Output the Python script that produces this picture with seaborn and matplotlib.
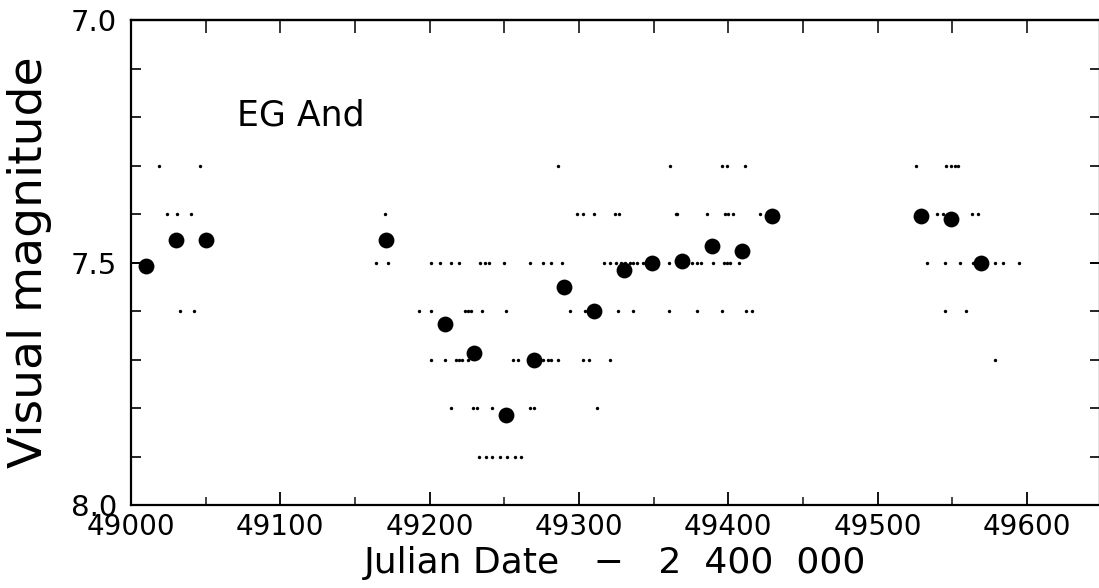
import matplotlib
matplotlib.use('Agg')
import matplotlib.pyplot as plt
import seaborn as sns
import pandas as pd
from matplotlib.ticker import MultipleLocator, FixedLocator

# ---- data ----
# 20-day binned means (large dots)
mean_jd = [49010, 49030, 49050, 49171, 49210, 49230, 49251, 49270, 49290, 49310,
           49330, 49349, 49369, 49389, 49409, 49429, 49529, 49549, 49569]
mean_mag = [7.508, 7.453, 7.453, 7.453, 7.627, 7.687, 7.815, 7.700, 7.550, 7.601,
            7.516, 7.500, 7.496, 7.466, 7.477, 7.405, 7.405, 7.410, 7.502]

# individual visual estimates (small dots), grouped by magnitude
obs_jd_73 = [49019, 49046, 49286, 49361, 49396, 49399, 49411, 49526, 49546, 49549,
             49552, 49554]
obs_jd_74 = [49024, 49031, 49040, 49170, 49299, 49303, 49310, 49324, 49327, 49365,
             49366, 49386, 49398, 49400, 49403, 49421, 49540, 49544, 49563, 49567]
obs_jd_75 = [49164, 49172, 49201, 49207, 49214, 49220, 49234, 49237, 49240, 49250,
             49267, 49276, 49281, 49289, 49317, 49321, 49325, 49328, 49331, 49334,
             49336, 49339, 49343, 49346, 49360, 49373, 49376, 49379, 49382, 49390,
             49397, 49399, 49401, 49407, 49533, 49545, 49555, 49564, 49579, 49584,
             49595]
obs_jd_76 = [49033, 49042, 49193, 49201, 49224, 49226, 49228, 49235, 49251, 49294,
             49304, 49326, 49336, 49360, 49379, 49396, 49412, 49416, 49545, 49559]
obs_jd_77 = [49201, 49210, 49218, 49220, 49222, 49226, 49256, 49259, 49276, 49279,
             49281, 49286, 49303, 49307, 49321, 49579]
obs_jd_78 = [49214, 49229, 49232, 49242, 49267, 49270, 49312]
obs_jd_79 = [49233, 49238, 49242, 49247, 49252, 49257, 49261]

obs_levels = [7.3, 7.4, 7.5, 7.6, 7.7, 7.8, 7.9]
obs_groups = [obs_jd_73, obs_jd_74, obs_jd_75, obs_jd_76, obs_jd_77, obs_jd_78, obs_jd_79]

x_major = [49000, 49100, 49200, 49300, 49400, 49500, 49600]
y_major = [7.0, 7.5, 8.0]
y_labels = ['7.0', '7.5', '8.0']

obs_df = pd.DataFrame({
    'jd': [j for grp in obs_groups for j in grp],
    'mag': [lvl for lvl, grp in zip(obs_levels, obs_groups) for _ in grp],
})
mean_df = pd.DataFrame({'jd': mean_jd, 'mag': mean_mag})

# ---- figure ----
sns.set_theme(style='ticks')
plt.rcParams['font.family'] = ['DejaVu Sans']

W, H = 1099, 588
fig = plt.figure(figsize=(W / 100, H / 100), dpi=100)
ax = fig.add_axes([131 / W, (H - 505) / H, 969 / W, 485 / H])

sns.scatterplot(data=obs_df, x='jd', y='mag', ax=ax, color='black', s=6,
                linewidth=0, marker='o', legend=False)
sns.scatterplot(data=mean_df, x='jd', y='mag', ax=ax, color='black', s=130,
                linewidth=0, marker='o', legend=False)

ax.set_xlim(49000, 49649)
ax.set_ylim(8.0, 7.0)

ax.xaxis.set_major_locator(FixedLocator(x_major))
ax.xaxis.set_minor_locator(MultipleLocator(50))
ax.set_xticklabels([str(v) for v in x_major])
ax.yaxis.set_major_locator(FixedLocator(y_major))
ax.yaxis.set_minor_locator(MultipleLocator(0.1))
ax.set_yticklabels(y_labels)

ax.tick_params(axis='x', which='major', direction='in', length=9.5, width=1.3,
               bottom=True, top=False, labelsize=20, pad=6, colors='black')
ax.tick_params(axis='x', which='minor', direction='in', length=6, width=1.2,
               bottom=True, top=False)
ax.tick_params(axis='y', which='major', direction='in', length=7.5, width=1.4,
               left=True, right=True, labelsize=21, pad=10, colors='black')
ax.tick_params(axis='y', which='minor', direction='in', length=7, width=1.4,
               left=True, right=True)

sec = ax.secondary_xaxis('top')
sec.xaxis.set_major_locator(MultipleLocator(50))
sec.tick_params(direction='in', length=9.5, width=1.3, labeltop=False)
sec.spines['top'].set_linewidth(1.6)

for sp in ax.spines.values():
    sp.set_visible(True)
    sp.set_linewidth(1.6)
    sp.set_color('black')

ax.set_xlabel('Julian Date   \u2212   2  400  000', fontsize=26, color='black')
ax.xaxis.set_label_coords(0.5, -0.085)
ax.xaxis.label.set_va('top')

ax.set_ylabel('Visual magnitude', fontsize=34, color='black')
ax.yaxis.set_label_coords(-0.105, 0.5)
ax.yaxis.label.set_va('center')

ax.text(49071, 7.218, 'EG And', fontsize=25, ha='left', va='baseline', color='black')

fig.savefig('out.png', dpi=100)
